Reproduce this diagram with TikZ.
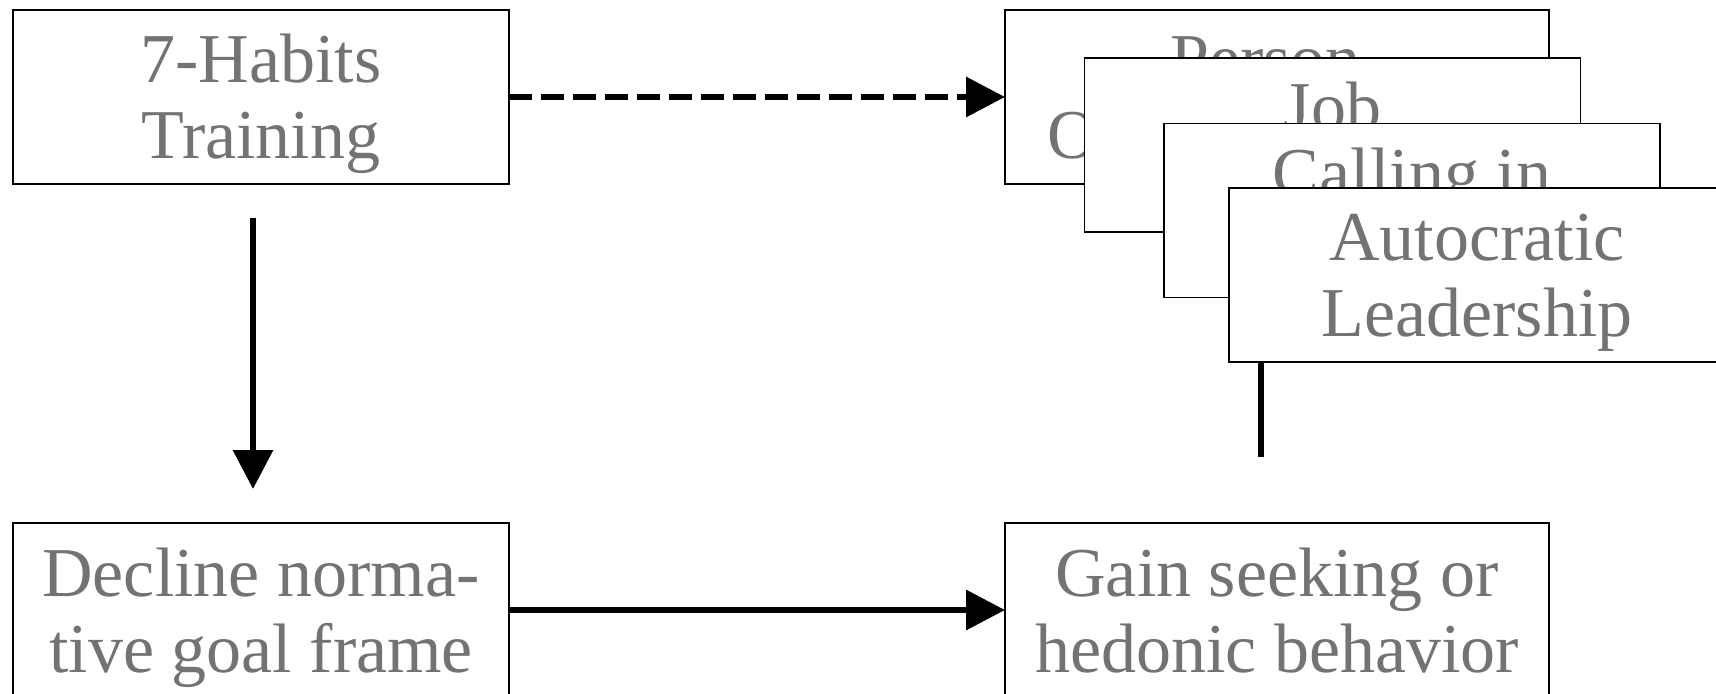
\documentclass[tikz,border=0pt]{standalone}
\usepackage{fontspec}
\setmainfont{Liberation Serif}
\usetikzlibrary{arrows.meta}
\definecolor{labelgray}{HTML}{737373}
% two-line card label with fixed top and bottom extents
\newcommand\cardtext[2]{\rule{0pt}{32pt}#1\\#2\rule[-8pt]{0pt}{0pt}}
\begin{document}
\begin{tikzpicture}[x=0.5pt,y=-0.5pt,
  box/.style={draw=black, line width=0.75pt, fill=white,
    inner sep=0pt, outer sep=0pt,
    minimum width=248pt, minimum height=87pt,
    align=center, text=labelgray,
    font=\fontsize{35pt}{38pt}\selectfont},
  widebox/.style={box, minimum width=272pt},
  link/.style={line width=3.25pt, -{Triangle[length=19.5pt,width=19.5pt]}},
  plainlink/.style={line width=3.25pt},
  dashedlink/.style={link, dash pattern=on 11.5pt off 4.5pt}]
\useasboundingbox (0,0) rectangle (1716,694);

% left column
\node[box] (habits) at (261,97) {\cardtext{7-Habits}{Training}};
\node[box] (decline) at (261,610) {\cardtext{Decline norma-}{tive goal frame}};

% stacked moderator cards, back to front
\node[widebox] (person) at (1277,97) {\cardtext{Person-}{Organization Fit}};
\node[box] (job) at (1332.5,145) {\cardtext{Job}{\mbox{}}};
\node[box] (calling) at (1412,210.5) {\cardtext{Calling in}{\mbox{}}};
\node[box] (autocratic) at (1477,275) {\cardtext{Autocratic}{Leadership}};

% outcome
\node[widebox] (gain) at (1277,610) {\cardtext{Gain seeking or}{hedonic behavior}};

% connectors
\draw[dashedlink] (habits.east) -- (person.west);
\draw[link] (decline.east) -- (gain.west);
\draw[link, shorten <=17pt, shorten >=17pt]
  ([xshift=-4pt]habits.south) -- ([xshift=-4pt]decline.north);
\coordinate (tail) at ([xshift=16pt,yshift=-47.5pt]autocratic.south west);
\draw[plainlink] ([xshift=16pt]autocratic.south west) -- (tail);
\end{tikzpicture}
\end{document}
